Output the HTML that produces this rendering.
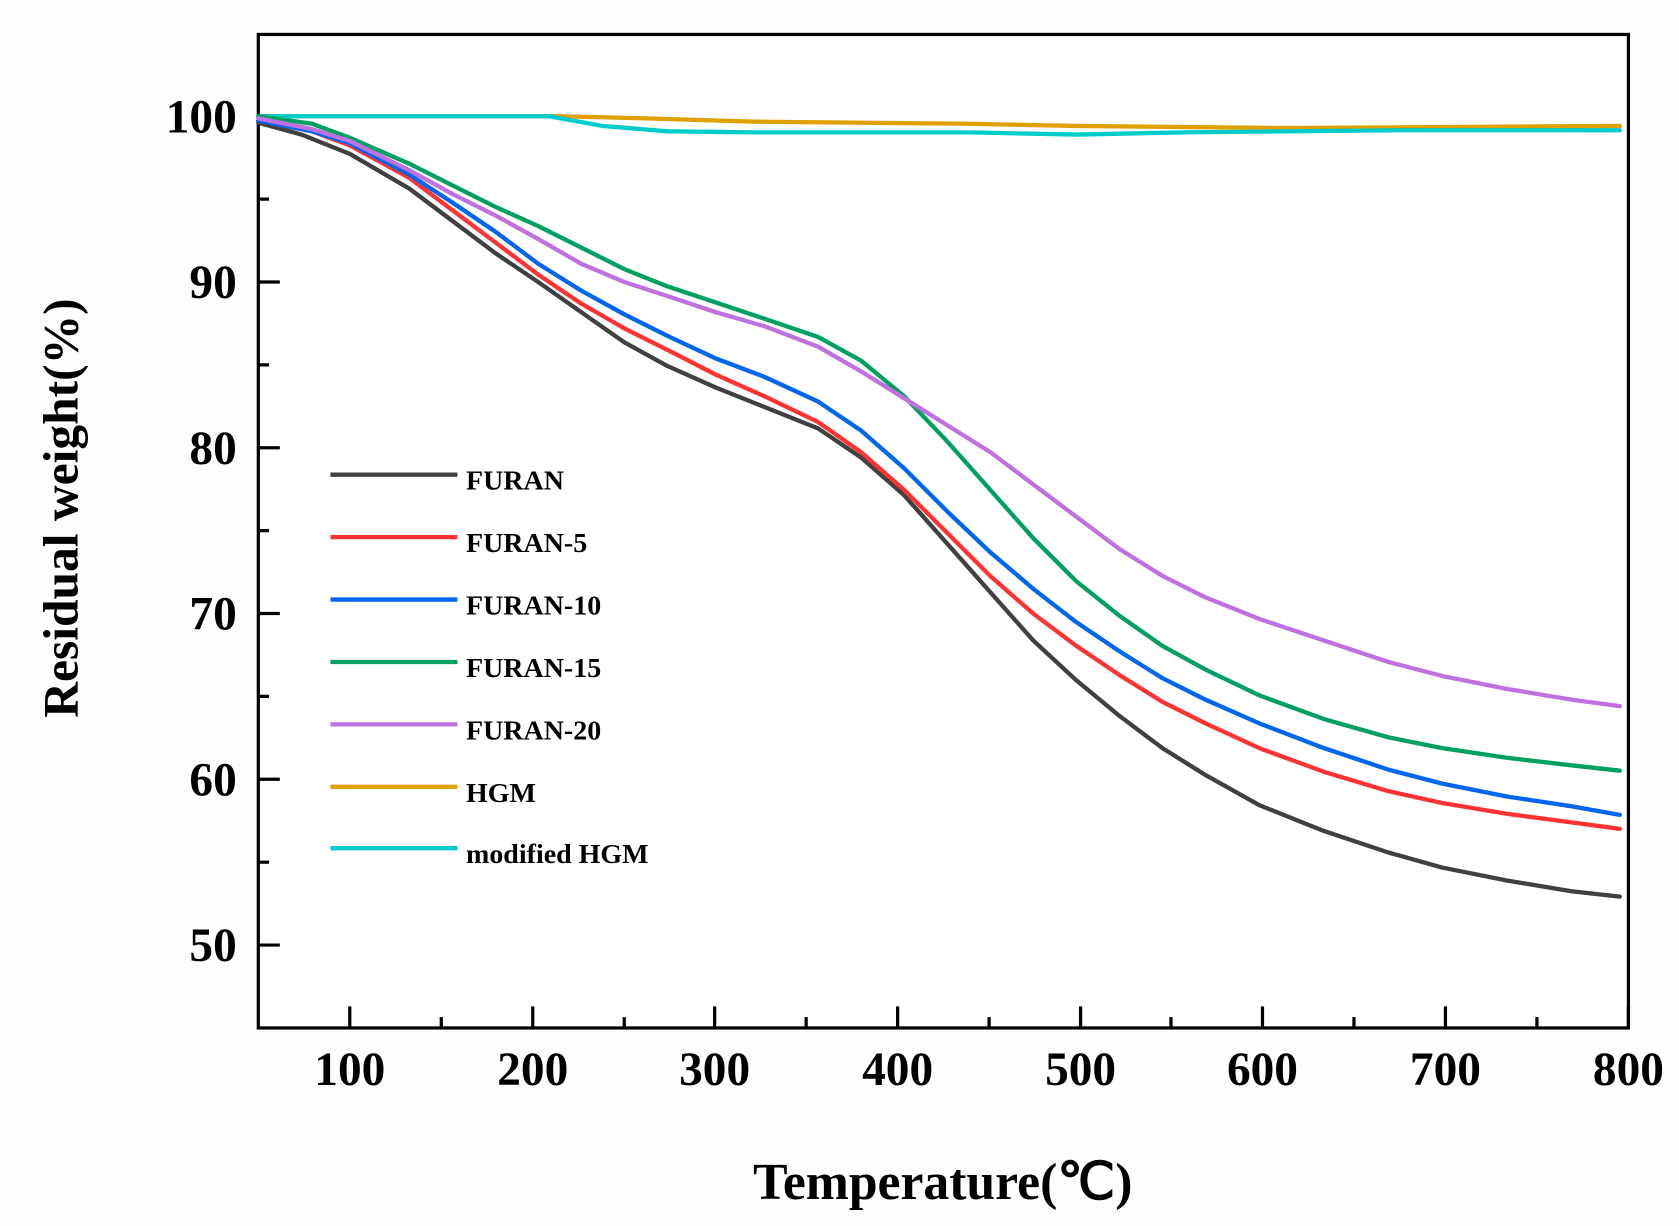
<!DOCTYPE html>
<html><head><meta charset="utf-8"><style>
html,body{margin:0;padding:0;background:#fdfdfd;}
svg{display:block;}
text{font-family:"Liberation Serif",serif;font-weight:bold;fill:#000;}
</style></head><body>
<svg width="1679" height="1226" viewBox="0 0 1560 1139" preserveAspectRatio="none" xmlns="http://www.w3.org/2000/svg">
<rect x="0" y="0" width="1560" height="1139" fill="#fdfdfd"/>
<rect x="240" y="32" width="1273" height="923" fill="#fff" stroke="#000" stroke-width="3"/>
<g stroke="#000" stroke-width="3">
<path d="M325 955V935M495 955V935M664 955V935M834 955V935M1004 955V935M1173 955V935M1343 955V935M1513 955V935"/>
<path d="M410 955V945M580 955V945M749 955V945M919 955V945M1088 955V945M1258 955V945M1428 955V945"/>
<path d="M240 108H260M240 262H260M240 416H260M240 570H260M240 724H260M240 878H260"/>
<path d="M240 185H250M240 339H250M240 493H250M240 647H250M240 801H250"/>
</g>
<g font-size="44" text-anchor="middle">
<text x="325" y="1008">100</text><text x="495" y="1008">200</text><text x="664" y="1008">300</text><text x="834" y="1008">400</text><text x="1004" y="1008">500</text><text x="1173" y="1008">600</text><text x="1343" y="1008">700</text><text x="1513" y="1008">800</text>
</g>
<g font-size="44" text-anchor="end">
<text x="220" y="123">100</text><text x="220" y="277">90</text><text x="220" y="431">80</text><text x="220" y="585">70</text><text x="220" y="739">60</text><text x="220" y="893">50</text>
</g>
<text x="876" y="1114" font-size="48" text-anchor="middle">Temperature(℃)</text>
<text transform="translate(72,472) rotate(-90)" font-size="46" text-anchor="middle">Residual weight(%)</text>
<g fill="none" stroke-width="4" stroke-linejoin="round" stroke-linecap="round">
<polyline stroke="#e0a000" points="240,108 520,108 600,110 700,113 900,115 1000,117 1200,119 1505,117"/>
<polyline stroke="#00cccc" points="240,108 510,108 560,117 620,122 700,123 900,123 1000,125 1100,123 1300,121 1505,121"/>
<polyline stroke="#404040" points="240,114 280,125 325,143 380,175 420,205 460,235 500,262 540,290 580,318 620,340 665,360 710,378 760,398 800,425 840,460 880,505 920,550 960,595 1000,632 1040,665 1080,695 1120,720 1170,748 1230,772 1290,792 1340,806 1400,818 1460,828 1505,833"/>
<polyline stroke="#ff3333" points="240,112 290,122 325,135 380,165 420,195 460,225 500,255 540,282 580,305 620,325 665,348 710,368 760,392 800,420 840,455 880,495 920,535 960,570 1000,600 1040,627 1080,652 1120,672 1170,695 1230,717 1290,735 1340,746 1400,756 1460,764 1505,770"/>
<polyline stroke="#0066ee" points="240,112 290,122 325,133 380,162 420,188 460,215 500,245 540,270 580,292 620,312 665,333 710,350 760,373 800,400 840,435 880,475 920,513 960,547 1000,578 1040,605 1080,630 1120,650 1170,672 1230,695 1290,715 1340,728 1400,740 1460,749 1505,757"/>
<polyline stroke="#00a060" points="240,108 290,115 325,128 380,152 420,172 460,192 500,210 540,230 580,250 620,266 665,281 710,296 760,313 800,335 840,368 880,410 920,455 960,500 1000,540 1040,572 1080,600 1120,622 1170,646 1230,668 1290,685 1340,695 1400,704 1460,711 1505,716"/>
<polyline stroke="#c070e0" points="240,110 290,120 325,131 380,158 420,180 460,200 500,222 540,245 580,262 620,275 665,290 710,303 760,322 800,345 840,370 880,395 920,420 960,450 1000,480 1040,510 1080,535 1120,555 1170,575 1230,595 1290,615 1340,628 1400,640 1460,650 1505,656"/>
</g>
<g stroke-width="4">
<line x1="307" y1="441" x2="425" y2="441" stroke="#404040"/>
<line x1="307" y1="499" x2="425" y2="499" stroke="#ff3333"/>
<line x1="307" y1="557" x2="425" y2="557" stroke="#0066ee"/>
<line x1="307" y1="615" x2="425" y2="615" stroke="#00a060"/>
<line x1="307" y1="673" x2="425" y2="673" stroke="#c070e0"/>
<line x1="307" y1="731" x2="425" y2="731" stroke="#e0a000"/>
<line x1="307" y1="788" x2="425" y2="788" stroke="#00cccc"/>
</g>
<g font-size="26">
<text x="433" y="455">FURAN</text>
<text x="433" y="513">FURAN-5</text>
<text x="433" y="571">FURAN-10</text>
<text x="433" y="629">FURAN-15</text>
<text x="433" y="687">FURAN-20</text>
<text x="433" y="745">HGM</text>
<text x="433" y="802">modified HGM</text>
</g>
</svg>
</body></html>
